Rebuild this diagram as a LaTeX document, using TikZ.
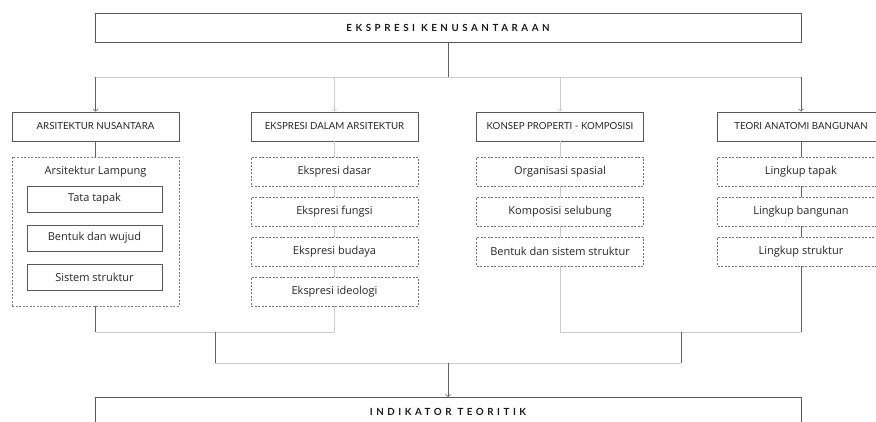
\documentclass[tikz,border=0pt]{standalone}
\usepackage{fontspec}
\setmainfont{Open Sans}
\newfontfamily\capsfont{Lato}
\newfontfamily\titlefont[LetterSpace=36]{Lato}
\usetikzlibrary{arrows.meta}

\tikzset{
  darkline/.style={draw=black!62, line width=0.6pt},
  lightline/.style={draw=black!20, line width=0.6pt},
  tip/.style={-{Straight Barb[length=2.5pt,width=5pt]}},
  titlebox/.style={draw=black!65, line width=0.7pt, minimum width=706pt, minimum height=29pt,
    inner sep=0pt, text=black!90, font=\titlefont\bfseries\fontsize{9.8}{11}\selectfont},
  headbox/.style={draw=black!65, line width=0.6pt, minimum width=167pt, minimum height=29pt,
    inner sep=0pt, text=black!85, font=\capsfont\fontsize{9.7}{11}\selectfont},
  groupbox/.style={draw=black!50, dashed, dash pattern=on 2pt off 1.5pt, line width=0.5pt,
    minimum width=167pt, minimum height=149pt, inner sep=0pt},
  subbox/.style={draw=black!65, line width=0.6pt, minimum width=135pt, minimum height=26pt,
    inner sep=0pt, text=black!85, font=\fontsize{11}{13}\selectfont},
  itembox/.style={draw=black!55, dashed, dash pattern=on 2pt off 1.5pt, line width=0.5pt,
    minimum width=167pt, minimum height=29pt, inner sep=0pt, text=black!85,
    font=\fontsize{11}{13}\selectfont},
}

\begin{document}
\begin{tikzpicture}[x=1pt,y=-1pt]
  \clip (0,0) rectangle (876,421);

  % judul
  \node[titlebox] (title) at (448,27.5) {EKSPRESI KENUSANTARAAN};
  \coordinate (split) at (448,77);

  % kolom kepala
  \node[headbox] (nus)  at (95.5,126.5)  {ARSITEKTUR NUSANTARA};
  \node[headbox] (eks)  at (334.5,126.5) {EKSPRESI DALAM ARSITEKTUR};
  \node[headbox] (kon)  at (560,126.5)   {KONSEP PROPERTI - KOMPOSISI};
  \node[headbox] (ana)  at (801,126.5)   {TEORI ANATOMI BANGUNAN};

  % arsitektur lampung
  \node[groupbox] (lamp) at (95.5,231.5) {};
  \node[text=black!85, font=\fontsize{11}{13}\selectfont] (lamptitle) at (95.5,172) {Arsitektur Lampung};
  \node[subbox] (l1) at (94.5,199)   {Tata tapak};
  \node[subbox] (l2) at (94.5,238)   {Bentuk dan wujud};
  \node[subbox] (l3) at (94.5,277.5) {Sistem struktur};

  % ekspresi
  \node[itembox] (e1) at (334.5,171.5) {Ekspresi dasar};
  \node[itembox] (e2) at (334.5,211.5) {Ekspresi fungsi};
  \node[itembox] (e3) at (334.5,251.5) {Ekspresi budaya};
  \node[itembox] (e4) at (334.5,291.5) {Ekspresi ideologi};

  % konsep
  \node[itembox] (k1) at (560,171.5) {Organisasi spasial};
  \node[itembox] (k2) at (560,211.5) {Komposisi selubung};
  \node[itembox] (k3) at (560,251.5) {Bentuk dan sistem struktur};

  % anatomi
  \node[itembox] (a1) at (801,171.5) {Lingkup tapak};
  \node[itembox] (a2) at (801,211.5) {Lingkup bangunan};
  \node[itembox] (a3) at (801,251.5) {Lingkup struktur};

  % hasil
  \node[titlebox] (result) at (448,412) {INDIKATOR TEORITIK};

  \coordinate (mergeA) at (215,332);
  \coordinate (mergeB) at (681,332);
  \coordinate (merge) at (448,363);

  % percabangan atas
  \draw[darkline] (title.south) -- (split);
  \draw[lightline] (split -| nus) -- (split -| ana);
  \draw[darkline,tip] (split -| nus) -- (nus.north);
  \draw[lightline,tip] (split -| eks) -- (eks.north);
  \draw[lightline,tip] (split -| kon) -- (kon.north);
  \draw[darkline,tip] (split -| ana) -- (ana.north);

  % sambungan kolom
  \draw[darkline] (nus) -- (lamp);
  \draw[lightline] (eks) -- (e1) (e1) -- (e2) (e2) -- (e3) (e3) -- (e4);
  \draw[lightline] (kon) -- (k1) (k1) -- (k2) (k2) -- (k3);
  \draw[darkline] (ana) -- (a1) (a1) -- (a2) (a2) -- (a3);

  % penggabungan bawah
  \draw[darkline] (lamp.south) -- (lamp.south |- mergeA);
  \draw[lightline] (e4.south) -- (e4.south |- mergeA);
  \draw[lightline] (lamp.south |- mergeA) -- (e4.south |- mergeA);
  \draw[lightline] (k3.south) -- (k3.south |- mergeB);
  \draw[darkline] (a3.south) -- (a3.south |- mergeB);
  \draw[lightline] (k3.south |- mergeB) -- (a3.south |- mergeB);
  \draw[darkline] (mergeA) -- (mergeA |- merge);
  \draw[darkline] (mergeB) -- (mergeB |- merge);
  \draw[lightline] (mergeA |- merge) -- (mergeB |- merge);
  \draw[darkline,tip] (merge) -- (result.north);
\end{tikzpicture}
\end{document}
